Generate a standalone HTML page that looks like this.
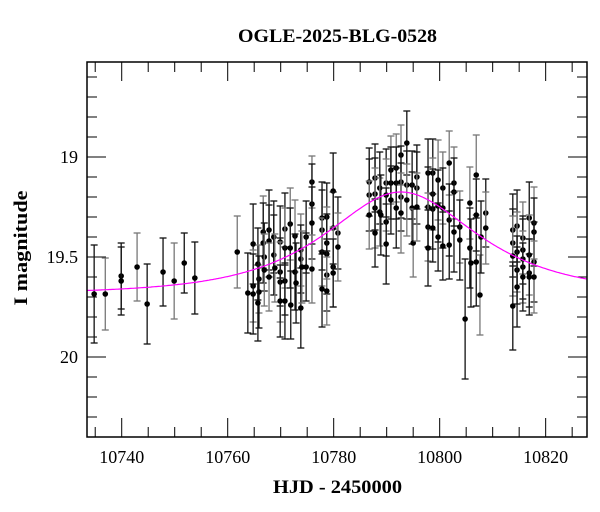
<!DOCTYPE html>
<html><head><meta charset="utf-8"><style>
html,body{margin:0;padding:0;background:#fff;}
svg{display:block;font-family:"Liberation Serif",serif;}
</style></head><body>
<svg id="chart" width="600" height="512" xmlns="http://www.w3.org/2000/svg">
<text x="337.5" y="42" text-anchor="middle" font-size="19" font-weight="bold" textLength="199" lengthAdjust="spacingAndGlyphs">OGLE-2025-BLG-0528</text>
<text x="337.5" y="493" text-anchor="middle" font-size="19" font-weight="bold" textLength="129" lengthAdjust="spacingAndGlyphs">HJD - 2450000</text>
<text x="27" y="248" text-anchor="middle" font-size="19" font-weight="bold" textLength="115" lengthAdjust="spacingAndGlyphs" transform="rotate(-90 27 248)">I magnitude</text>
<g id="grid"></g>
<g id="marks"></g>
<rect x="87" y="62" width="500" height="375" fill="none" stroke="#000" stroke-width="1.5"/>
</svg>
<script>
const times = [10734.8,10736.9,10739.9,10739.9,10742.9,10744.8,10747.8,10749.9,10751.8,10753.8,10761.8,
10763.8,10764.8,10764.8,10764.8,10765.7,10765.9,10765.9,10765.7,10766.7,10766.7,10766.9,10766.9,10767.8,10767.8,10767.8,10768.7,10768.7,10768.9,10769.9,10769.9,10769.9,10769.9,10770.8,10770.8,10770.8,10770.8,10771.8,10771.8,10771.9,10772.7,10772.7,10772.9,10773.8,10773.8,10773.8,10774.0,10774.8,10774.8,10775.9,10775.9,10775.9,10775.9,10777.8,10777.8,10777.8,10777.8,10778.7,10778.7,10778.7,10778.7,10778.7,10779.9,10779.9,10779.9,10779.9,10780.8,10780.8,
10786.7,10786.7,10786.7,10787.8,10787.8,10787.8,10787.8,10788.7,10788.7,10788.9,10789.9,10789.9,10789.9,10789.9,10790.8,10790.8,10790.8,10791.8,10791.8,10791.8,10792.7,10792.7,10792.7,10792.7,10793.8,10793.8,10793.8,10794.8,10794.8,10795.0,10795.7,10795.7,10795.7,10797.8,10797.8,10797.8,10797.8,10798.7,10798.7,10798.7,10798.7,10799.7,10799.7,10799.7,10800.6,10800.6,10800.6,10801.8,10801.8,10801.8,10802.7,10802.7,10802.7,10803.8,10803.8,10804.8,10805.7,10805.7,10805.9,10806.9,10806.9,10806.9,10807.6,10807.8,10808.7,10808.7,
10813.8,10813.8,10813.8,10813.8,10814.6,10814.6,10814.6,10814.6,10815.7,10815.7,10815.7,10815.7,10815.7,10816.9,10816.9,10816.9,10816.9,10817.8,10817.8,10817.8,10817.8];
const mags = [19.685,19.685,19.595,19.62,19.55,19.735,19.575,19.62,19.53,19.605,19.475,
19.68,19.435,19.645,19.685,19.535,19.61,19.675,19.73,19.375,19.43,19.5,19.565,19.365,19.42,19.6,19.4,19.49,19.555,19.425,19.575,19.625,19.72,19.36,19.455,19.62,19.72,19.335,19.455,19.74,19.395,19.575,19.63,19.465,19.51,19.755,19.55,19.4,19.55,19.125,19.235,19.33,19.56,19.305,19.365,19.475,19.66,19.3,19.43,19.485,19.59,19.67,19.17,19.355,19.55,19.58,19.38,19.45,
19.125,19.19,19.29,19.105,19.185,19.255,19.38,19.155,19.275,19.29,19.13,19.19,19.325,19.435,19.065,19.13,19.215,19.055,19.13,19.255,18.99,19.125,19.2,19.28,18.93,19.14,19.215,19.14,19.255,19.43,19.1,19.155,19.25,19.08,19.25,19.35,19.455,19.08,19.185,19.26,19.355,19.115,19.245,19.4,19.155,19.255,19.445,19.03,19.315,19.44,19.13,19.175,19.375,19.35,19.415,19.81,19.23,19.455,19.53,19.09,19.29,19.525,19.69,19.4,19.28,19.355,
19.365,19.43,19.495,19.745,19.345,19.475,19.565,19.65,19.405,19.465,19.51,19.55,19.6,19.305,19.49,19.58,19.6,19.33,19.375,19.525,19.6];
const errors = [0.245,0.18,0.165,0.17,0.17,0.2,0.17,0.19,0.15,0.18,0.18,
0.2,0.2,0.18,0.2,0.18,0.17,0.18,0.19,0.18,0.2,0.17,0.18,0.2,0.18,0.17,0.18,0.2,0.17,0.18,0.17,0.2,0.18,0.18,0.2,0.17,0.19,0.18,0.2,0.17,0.18,0.19,0.2,0.18,0.17,0.2,0.18,0.18,0.17,0.13,0.2,0.18,0.17,0.18,0.2,0.17,0.19,0.17,0.18,0.2,0.18,0.17,0.19,0.18,0.2,0.17,0.18,0.17,
0.17,0.18,0.17,0.17,0.18,0.2,0.17,0.18,0.17,0.2,0.17,0.18,0.17,0.2,0.17,0.18,0.17,0.17,0.18,0.2,0.15,0.18,0.17,0.2,0.16,0.17,0.18,0.17,0.18,0.17,0.16,0.18,0.17,0.17,0.2,0.17,0.19,0.17,0.18,0.2,0.17,0.2,0.18,0.17,0.18,0.2,0.17,0.16,0.18,0.17,0.18,0.17,0.2,0.18,0.2,0.3,0.18,0.2,0.22,0.2,0.18,0.22,0.2,0.18,0.17,0.18,
0.18,0.17,0.2,0.22,0.18,0.2,0.17,0.2,0.18,0.17,0.2,0.18,0.17,0.18,0.2,0.17,0.19,0.18,0.17,0.2,0.18];
const xTicks = [10740,10760,10780,10800,10820];
const yTicks = [19,19.5,20];
const modelT0 = 10792.7, modelTE = 20.2, modelU0 = 0.75, modelBase = 19.685;

const X0=87,X1=587,Y0=62,Y1=437;
const tMin=10733.45,tMax=10827.8,mTop=18.525,mBot=20.4;
const xs=t=>X0+(t-tMin)/(tMax-tMin)*(X1-X0);
const ys=m=>Y0+(m-mTop)/(mBot-mTop)*(Y1-Y0);
const NS="http://www.w3.org/2000/svg";
function mk(tag,attrs,parent){const e=document.createElementNS(NS,tag);for(const k in attrs)e.setAttribute(k,attrs[k]);parent.appendChild(e);return e;}
const grid=document.getElementById('grid'),marks=document.getElementById('marks');

for(let t=10735;t<=10825;t+=5){
  const x=xs(t);const major=xTicks.includes(t);const L=major?19:10;
  const a=mk('line',{x1:x,x2:x,y1:Y1,y2:Y1-L,stroke:'#000','stroke-width':1},grid);
  
  
  const b=mk('line',{x1:x,x2:x,y1:Y0,y2:Y0+L,stroke:'#000','stroke-width':1},grid);
  
  
}
xTicks.forEach(t=>{const e=mk('text',{x:xs(t),y:Y1+26,'text-anchor':'middle','font-size':18},grid);e.textContent=String(t);
  
  });
for(let i=0;i<=18;i++){
  const m=18.6+i*0.1;const y=ys(m);const major=yTicks.some(v=>Math.abs(v-m)<1e-6);const L=major?19:10;
  const a=mk('line',{x1:X0,x2:X0+L,y1:y,y2:y,stroke:'#000','stroke-width':1},grid);
  
  
  const b=mk('line',{x1:X1,x2:X1-L,y1:y,y2:y,stroke:'#000','stroke-width':1},grid);
  
  
}
yTicks.forEach(m=>{const e=mk('text',{x:X0-9,y:ys(m)+6,'text-anchor':'end','font-size':18},grid);e.textContent=String(m);
  
  });

times.forEach((t,i)=>{
  const x=xs(t),y=ys(mags[i]),ya=ys(mags[i]-errors[i]),yb=ys(mags[i]+errors[i]);
  const col=i%3===1?'#777':'#111';
  const g=mk('g',{},marks);
  
  
  mk('line',{x1:x,x2:x,y1:ya,y2:yb,stroke:col,'stroke-width':1.3},g);
  mk('line',{x1:x-3.5,x2:x+3.5,y1:ya,y2:ya,stroke:col,'stroke-width':1.3},g);
  mk('line',{x1:x-3.5,x2:x+3.5,y1:yb,y2:yb,stroke:col,'stroke-width':1.3},g);
  mk('circle',{cx:x,cy:y,r:2.8,fill:'#000'},g);
});

let d='';
for(let t=tMin;t<=tMax;t+=0.25){
  const tau=(t-modelT0)/modelTE;const u=Math.sqrt(modelU0*modelU0+tau*tau);
  const A=(u*u+2)/(u*Math.sqrt(u*u+4));
  const m=modelBase-2.5*Math.log10(A);
  d+=(d?'L':'M')+xs(t).toFixed(1)+','+ys(m).toFixed(1);
}
const p=mk('path',{d:d,fill:'none',stroke:'#f0f','stroke-width':1.2},marks);


</script>
</body></html>
